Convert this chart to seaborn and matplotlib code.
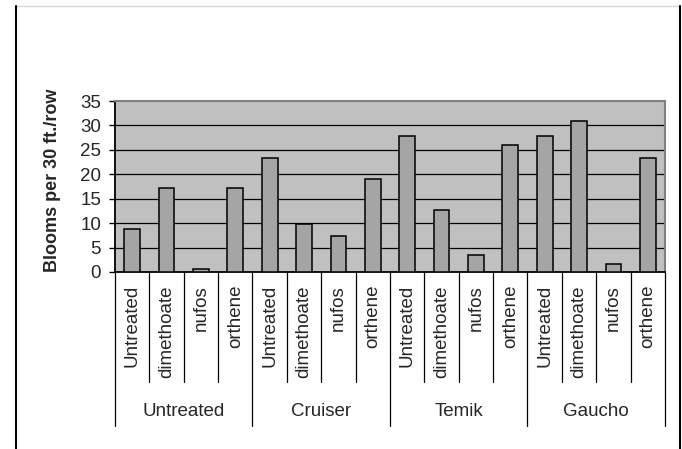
import matplotlib
matplotlib.use("Agg")
import matplotlib.pyplot as plt
import matplotlib.transforms as mtransforms
from matplotlib.lines import Line2D
import seaborn as sns
import pandas as pd

groups = ["Untreated", "Cruiser", "Temik", "Gaucho"]
treatments = ["Untreated", "dimethoate", "nufos", "orthene"]
blooms_untreated = [8.7, 17.2, 0.6, 17.2]
blooms_cruiser = [23.3, 9.9, 7.3, 19.1]
blooms_temik = [27.9, 12.6, 3.4, 26.0]
blooms_gaucho = [27.9, 30.9, 1.7, 23.3]
yticks = [0, 5, 10, 15, 20, 25, 30, 35]
ylabel = "Blooms per 30 ft./row"

values = blooms_untreated + blooms_cruiser + blooms_temik + blooms_gaucho
rows = []
for gi, g in enumerate(groups):
    for ti, t in enumerate(treatments):
        rows.append({"key": f"{g}|{t}", "group": g, "treatment": t,
                     "value": values[gi * len(treatments) + ti]})
df = pd.DataFrame(rows)

sns.set_theme(style="white")
plt.rcParams["font.family"] = ["Liberation Sans", "DejaVu Sans"]

W, H = 682, 449
fig = plt.figure(figsize=(W / 100, H / 100), dpi=100)
fig.patch.set_facecolor("white")
ax = fig.add_axes([115 / W, 1 - 272 / H, (665 - 115) / W, (272 - 101) / H])
ax.set_facecolor("#C0C0C0")

sns.barplot(data=df, x="key", y="value", color="#A5A5A5", edgecolor="black",
            linewidth=1.1, width=0.46, saturation=1, ax=ax, zorder=3)
for p in ax.patches:
    p.set_facecolor("#A5A5A5")

n = len(df)
ax.set_xlim(-0.5, n - 0.5)
ax.set_ylim(0, 35)
ax.set_yticks(yticks)
ax.set_yticklabels([str(v) for v in yticks], fontsize=13.5)
ax.set_xticks([])
ax.set_xlabel("")
ax.set_ylabel("")
ax.grid(False)
for v in yticks[1:-1]:
    ax.axhline(v, color="black", lw=0.9, zorder=1)
ax.tick_params(axis="y", which="major", length=4, width=1, color="black",
               pad=6, left=True, direction="out")
for s in ["top", "right"]:
    ax.spines[s].set_color("#808080")
    ax.spines[s].set_linewidth(1.5)
for s in ["left", "bottom"]:
    ax.spines[s].set_color("black")
    ax.spines[s].set_linewidth(1.3)

fig.text(53 / W, 1 - 180 / H, ylabel, rotation=90, ha="center", va="center",
         fontsize=13, fontweight="bold")

# multi-level category axis
tr = mtransforms.blended_transform_factory(ax.transData, fig.transFigure)
y0 = 1 - 272 / H
y_inner = 1 - 382 / H
y_outer = 1 - 426 / H
for k in range(n + 1):
    xb = k - 0.5
    yb = y_outer if k % len(treatments) == 0 else y_inner
    fig.add_artist(Line2D([xb, xb], [y0, yb], transform=tr, color="black",
                          lw=0.9, clip_on=False))
for i, t in enumerate(df["treatment"]):
    fig.text(i, 1 - 285 / H, t, transform=tr, rotation=90, ha="center",
             va="top", fontsize=13.5)
for gi, g in enumerate(groups):
    xc = gi * len(treatments) + (len(treatments) - 1) / 2
    fig.text(xc, 1 - 411 / H, g, transform=tr, ha="center", va="center",
             fontsize=13.5)

# outer frame
fig.add_artist(Line2D([16 / W, 680 / W], [1 - 6 / H, 1 - 6 / H],
                      transform=fig.transFigure, color="#D9D9D9", lw=1))
fig.add_artist(Line2D([16 / W, 16 / W], [1 - 6 / H, 0],
                      transform=fig.transFigure, color="black", lw=1.5))
fig.add_artist(Line2D([680 / W, 680 / W], [1 - 6 / H, 0],
                      transform=fig.transFigure, color="black", lw=1.5))

fig.savefig("out.png", dpi=100)
